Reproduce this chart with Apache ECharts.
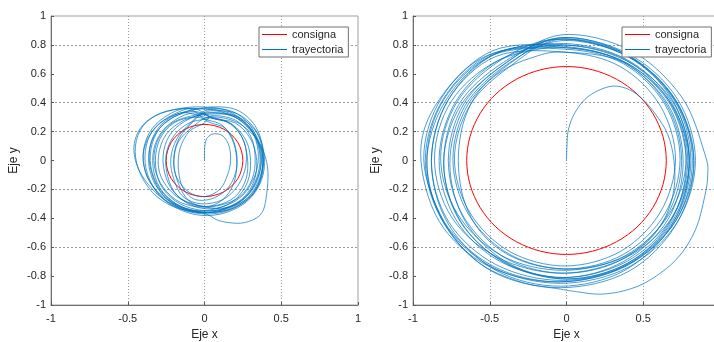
<!DOCTYPE html>
<html>
<head>
<meta charset="utf-8">
<script src="https://cdn.jsdelivr.net/npm/echarts@6/dist/echarts.min.js"></script>
<style>
  html, body { margin: 0; padding: 0; background: #fff; }
  #chart { width: 714px; height: 342px; }
</style>
</head>
<body>
<div id="chart"></div>
<script>
// consigna: circulo de referencia (r = 0.25 izquierda, r = 0.65 derecha)
const consignaIzq = [
  [0.25,0],[0.241,0.065],[0.217,0.125],[0.177,0.177],[0.125,0.217],[0.065,0.241],[0,0.25],
  [-0.065,0.241],[-0.125,0.217],[-0.177,0.177],[-0.217,0.125],[-0.241,0.065],[-0.25,0],
  [-0.241,-0.065],[-0.217,-0.125],[-0.177,-0.177],[-0.125,-0.217],[-0.065,-0.241],[0,-0.25],
  [0.065,-0.241],[0.125,-0.217],[0.177,-0.177],[0.217,-0.125],[0.241,-0.065],[0.25,0]
];
const consignaDer = [
  [0.65,0],[0.628,0.168],[0.563,0.325],[0.46,0.46],[0.325,0.563],[0.168,0.628],[0,0.65],
  [-0.168,0.628],[-0.325,0.563],[-0.46,0.46],[-0.563,0.325],[-0.628,0.168],[-0.65,0],
  [-0.628,-0.168],[-0.563,-0.325],[-0.46,-0.46],[-0.325,-0.563],[-0.168,-0.628],[0,-0.65],
  [0.168,-0.628],[0.325,-0.563],[0.46,-0.46],[0.563,-0.325],[0.628,-0.168],[0.65,0]
];

const trayIzq = [
  [0,0],[0,0.07],[0.005,0.12],[0.02,0.16],[0.06,0.185],[0.12,0.17],[0.16,0.1],[0.17,0],[0.15,-0.1],
  [0.1,-0.2],[0,-0.25],[-0.1,-0.22],[-0.18,-0.12],[-0.2,0],[-0.17,0.13],[-0.08,0.23],
  [0.03,0.3],[0.2,0.27],[0.33,0.16],[0.38,0.02],[0.36,-0.14],[0.27,-0.27],[0.12,-0.33],[-0.04,-0.31],
  [-0.18,-0.25],[-0.28,-0.12],[-0.3,0.03],[-0.25,0.18],[-0.13,0.28],
  [0.03,0.32],[0.2,0.3],[0.34,0.15],[0.41,-0.04],[0.4,-0.27],[0.36,-0.38],[0.26,-0.43],[0.16,-0.43],
  [0.08,-0.41],[0.01,-0.37],[-0.12,-0.34],[-0.26,-0.27],[-0.36,-0.14],[-0.4,0.02],[-0.36,0.17],
  [-0.26,0.28],[-0.12,0.34],
  [0.02,0.36],[0.18,0.34],[0.3,0.24],[0.36,0.08],[0.36,-0.08],[0.3,-0.22],[0.18,-0.32],[0.02,-0.36],
  [-0.14,-0.34],[-0.3,-0.24],[-0.42,-0.08],[-0.46,0.08],[-0.42,0.22],[-0.32,0.31],[-0.16,0.36],
  [0,0.37],[0.16,0.34],[0.3,0.22],[0.36,0.05],[0.34,-0.12],[0.26,-0.26],[0.12,-0.34],[-0.03,-0.36],
  [-0.18,-0.31],[-0.3,-0.2],[-0.36,-0.05],[-0.35,0.12],[-0.28,0.25],[-0.15,0.33],
  [0,0.3],[0.14,0.27],[0.24,0.17],[0.28,0.02],[0.27,-0.13],[0.2,-0.25],[0.08,-0.31],[-0.06,-0.31],
  [-0.18,-0.24],[-0.25,-0.12],[-0.27,0.03],[-0.23,0.17],[-0.13,0.27],
  [0.03,0.33],[0.2,0.3],[0.32,0.2],[0.38,0.04],[0.37,-0.12],[0.3,-0.25],[0.17,-0.34],[0.02,-0.37],
  [-0.14,-0.34],[-0.27,-0.24],[-0.34,-0.1],[-0.36,0.06],[-0.31,0.2],[-0.2,0.3],[-0.07,0.34],
  [0.05,0.3],[0.18,0.25],[0.26,0.12],[0.27,-0.03],[0.22,-0.17],[0.12,-0.27],[-0.02,-0.3],[-0.14,-0.25],
  [-0.2,-0.13],[-0.22,0.01],[-0.18,0.15],[-0.09,0.26],
  [0.02,0.35],[0.18,0.32],[0.3,0.22],[0.35,0.06],[0.33,-0.1],[0.25,-0.24],[0.12,-0.32],[-0.04,-0.35],
  [-0.2,-0.32],[-0.34,-0.22],[-0.43,-0.06],[-0.45,0.1],[-0.4,0.24],[-0.28,0.33],[-0.12,0.36],
  [0.05,0.35],[0.22,0.32],[0.34,0.2],[0.39,0.03],[0.37,-0.14],[0.28,-0.28],[0.14,-0.36],[-0.02,-0.38],
  [-0.18,-0.33],[-0.31,-0.22],[-0.38,-0.06],[-0.38,0.1],[-0.32,0.23],[-0.2,0.32],[-0.07,0.36],
  [0.06,0.29],[0.2,0.26],[0.3,0.15],[0.34,0],[0.32,-0.15],[0.24,-0.27],[0.1,-0.34],[-0.05,-0.34],
  [-0.19,-0.28],[-0.29,-0.16],[-0.32,0],[-0.29,0.15],[-0.2,0.26],[-0.07,0.3],
  [0.02,0.28],[0.12,0.24],[0.19,0.12],[0.21,-0.02],[0.19,-0.16],[0.12,-0.27],[0.01,-0.32],[-0.1,-0.28],
  [-0.17,-0.16],[-0.2,-0.02],[-0.18,0.12],[-0.11,0.23],
  [0.02,0.34],[0.18,0.31],[0.31,0.2],[0.37,0.05],[0.35,-0.11],[0.27,-0.25],[0.14,-0.33],[-0.02,-0.35],
  [-0.17,-0.31],[-0.29,-0.2],[-0.35,-0.04],[-0.34,0.12],[-0.27,0.25],[-0.14,0.33],
  [0.04,0.37],[0.21,0.35],[0.33,0.24],[0.38,0.08],[0.37,-0.1],[0.31,-0.24],[0.19,-0.33],[0.03,-0.36],
  [-0.13,-0.33],[-0.27,-0.25],[-0.37,-0.12],[-0.4,0.04],[-0.36,0.19],[-0.26,0.3],[-0.11,0.36],
  [0.02,0.27],[0.14,0.22],[0.2,0.1],[0.21,-0.05],[0.16,-0.18],[0.06,-0.26],[-0.06,-0.27],[-0.14,-0.19],
  [-0.17,-0.06],[-0.16,0.08],[-0.1,0.2],[0,0.26],
  [0.05,0.31],[0.2,0.28],[0.3,0.17],[0.33,0.02],[0.31,-0.13],[0.23,-0.25],[0.1,-0.31],[-0.05,-0.32],
  [-0.19,-0.27],[-0.29,-0.15],[-0.33,0],[-0.3,0.15],[-0.21,0.26],[-0.08,0.31],
  [0.04,0.33],[0.2,0.31],[0.33,0.21],[0.38,0.05],[0.36,-0.12],[0.28,-0.26],[0.15,-0.34],[0,-0.36],
  [-0.15,-0.32],[-0.27,-0.22],[-0.33,-0.08],[-0.33,0.08],[-0.27,0.21],[-0.16,0.3],[-0.05,0.33],
  [0.06,0.29],[0.18,0.25],[0.27,0.14],[0.3,0],[0.28,-0.15],[0.2,-0.27],[0.08,-0.33],[-0.06,-0.32],
  [-0.18,-0.24],[-0.24,-0.11],[-0.25,0.04],[-0.2,0.17],[-0.1,0.26],[0.03,0.29]
];

const trayDer = [
  [0,0],[0.003,0.1],[0.01,0.2],[0.04,0.3],[0.1,0.4],[0.18,0.47],[0.3,0.515],[0.41,0.49],[0.5,0.42],
  [0.58,0.32],[0.66,0.18],[0.7,0],[0.7,-0.2],[0.64,-0.4],[0.52,-0.57],[0.35,-0.68],[0.15,-0.74],
  [-0.05,-0.75],[-0.25,-0.71],[-0.43,-0.62],[-0.57,-0.48],[-0.66,-0.3],[-0.7,-0.1],[-0.7,0.1],
  [-0.66,0.3],[-0.57,0.48],[-0.42,0.62],[-0.23,0.71],[-0.02,0.75],
  [0.37,0.68],[0.65,0.39],[0.75,0],[0.65,-0.39],[0.37,-0.68],[-0.01,-0.78],[-0.39,-0.68],[-0.67,-0.39],
  [-0.77,0],[-0.67,0.39],[-0.39,0.68],
  [-0.04,0.85],[0.4,0.74],[0.72,0.43],[0.84,0],[0.72,-0.43],[0.4,-0.74],[-0.04,-0.85],[-0.48,-0.74],
  [-0.8,-0.43],[-0.92,0],[-0.8,0.43],[-0.48,0.74],
  [0,0.78],[0.4,0.67],[0.69,0.38],[0.8,-0.02],[0.69,-0.42],[0.4,-0.71],[0,-0.82],[-0.4,-0.71],
  [-0.69,-0.42],[-0.8,-0.02],[-0.69,0.38],[-0.4,0.67],
  [-0.03,0.87],[0.42,0.76],[0.75,0.44],[0.9,0.05],[0.92,-0.1],[0.9,-0.25],[0.84,-0.48],[0.72,-0.68],
  [0.54,-0.83],[0.38,-0.9],[0.22,-0.925],[0.08,-0.91],[-0.04,-0.89],[-0.3,-0.84],[-0.58,-0.7],
  [-0.8,-0.42],[-0.93,0.01],[-0.81,0.44],[-0.48,0.76],
  [-0.02,0.79],[0.37,0.68],[0.66,0.39],[0.76,-0.01],[0.66,-0.41],[0.37,-0.7],[-0.02,-0.81],[-0.41,-0.7],
  [-0.7,-0.41],[-0.8,-0.01],[-0.7,0.39],[-0.41,0.68],
  [-0.05,0.84],[0.38,0.73],[0.7,0.42],[0.81,0],[0.7,-0.42],[0.38,-0.73],[-0.05,-0.84],[-0.48,-0.73],
  [-0.8,-0.42],[-0.91,0],[-0.8,0.42],[-0.48,0.73],
  [0,0.77],[0.37,0.67],[0.64,0.39],[0.74,0.01],[0.64,-0.37],[0.37,-0.65],[0,-0.75],[-0.37,-0.65],
  [-0.64,-0.37],[-0.74,0.01],[-0.64,0.39],[-0.37,0.67],
  [-0.04,0.85],[0.38,0.74],[0.69,0.42],[0.8,-0.01],[0.69,-0.44],[0.38,-0.76],[-0.04,-0.87],[-0.46,-0.76],
  [-0.77,-0.44],[-0.88,-0.01],[-0.77,0.42],[-0.46,0.74],
  [-0.02,0.8],[0.38,0.7],[0.67,0.41],[0.78,0.02],[0.67,-0.37],[0.38,-0.66],[-0.02,-0.76],[-0.42,-0.66],
  [-0.71,-0.37],[-0.82,0.02],[-0.71,0.41],[-0.42,0.7],
  [-0.06,0.84],[0.39,0.73],[0.71,0.42],[0.83,0],[0.71,-0.42],[0.39,-0.73],[-0.06,-0.84],[-0.51,-0.73],
  [-0.83,-0.42],[-0.95,0.05],[-0.83,0.42],[-0.51,0.73],
  [0.01,0.78],[0.4,0.67],[0.68,0.38],[0.78,-0.02],[0.68,-0.42],[0.4,-0.71],[0.01,-0.82],[-0.38,-0.71],
  [-0.66,-0.42],[-0.76,-0.02],[-0.66,0.38],[-0.38,0.67],
  [-0.03,0.83],[0.4,0.72],[0.71,0.42],[0.82,0],[0.71,-0.42],[0.4,-0.72],[-0.03,-0.83],[-0.46,-0.72],
  [-0.77,-0.42],[-0.88,0],[-0.77,0.42],[-0.46,0.72],
  [-0.01,0.75],[0.35,0.65],[0.61,0.38],[0.71,0.01],[0.61,-0.36],[0.35,-0.63],[-0.01,-0.73],[-0.37,-0.63],
  [-0.63,-0.36],[-0.73,0.01],[-0.63,0.38],[-0.37,0.65],
  [-0.04,0.84],[0.4,0.73],[0.71,0.41],[0.83,-0.02],[0.71,-0.45],[0.4,-0.77],[-0.04,-0.88],[-0.48,-0.77],
  [-0.79,-0.45],[-0.91,-0.02],[-0.79,0.41],[-0.48,0.73],
  [-0.02,0.81],[0.39,0.7],[0.68,0.41],[0.79,0],[0.68,-0.41],[0.39,-0.7],[-0.02,-0.81],[-0.43,-0.7],
  [-0.72,-0.41],[-0.83,0],[-0.72,0.41],[-0.43,0.7],
  [-0.03,0.8],[0.39,0.69],[0.69,0.41],[0.8,0.01],[0.69,-0.39],[0.39,-0.67],[-0.03,-0.78],[-0.45,-0.67],
  [-0.75,-0.39],[-0.86,0.01],[-0.75,0.41],[-0.45,0.69],[-0.03,0.8]
];

const nombres = ["consigna", "trayectoria"];
const ejeX = "Eje x";
const ejeY = "Eje y";
// lineas de rejilla horizontales que se ven en la figura (de -1 a 1)
const rejillaY = ["none","none","g","none","g","none","g","g","none","g","none"];

const chart = echarts.init(document.getElementById("chart"));
const fuente = "Liberation Sans, Arial, sans-serif";
const gris = "#999999";

// tramos [p0, p1, p2, p3] para dibujar una curva suave entre p1 y p2
function tramos(pts, cerrada) {
  const n = pts.length;
  const out = [];
  for (let i = 0; i < n - 1; i++) {
    let p0 = i > 0 ? pts[i - 1] : (cerrada ? pts[n - 2] : pts[i]);
    let p3 = i + 2 < n ? pts[i + 2] : (cerrada ? pts[1] : pts[i + 1]);
    out.push([p0[0], p0[1], pts[i][0], pts[i][1], pts[i + 1][0], pts[i + 1][1], p3[0], p3[1]]);
  }
  return out;
}

function ejeXopt(idx) {
  return {
    gridIndex: idx,
    type: "value",
    min: -1,
    max: 1,
    interval: 0.5,
    name: ejeX,
    nameLocation: "middle",
    nameGap: 22,
    nameTextStyle: { color: "#262626", fontSize: 12, fontFamily: fuente },
    axisLine: { show: true, onZero: false, lineStyle: { color: "#707070" } },
    axisTick: { show: true, inside: true, length: 3, lineStyle: { color: "#555" } },
    axisLabel: { color: "#262626", fontSize: 11, fontFamily: fuente, margin: 8 },
    splitLine: {
      show: true,
      lineStyle: { color: ["transparent", gris, gris, gris, "transparent"], type: [1, 2] },
    },
  };
}

function ejeYopt(idx) {
  return {
    gridIndex: idx,
    type: "value",
    min: -1,
    max: 1,
    interval: 0.2,
    name: ejeY,
    nameLocation: "middle",
    nameGap: 31,
    nameTextStyle: { color: "#262626", fontSize: 12, fontFamily: fuente },
    axisLine: { show: true, onZero: false, lineStyle: { color: "#707070" } },
    axisTick: { show: true, inside: true, length: 3, lineStyle: { color: "#555" } },
    axisLabel: { color: "#262626", fontSize: 11, fontFamily: fuente, margin: 5 },
    splitLine: {
      show: true,
      lineStyle: {
        color: rejillaY.map((c) => (c === "g" ? gris : "transparent")),
        type: [2, 2],
      },
    },
  };
}

function leyenda(left) {
  return {
    left: left,
    top: 27,
    orient: "vertical",
    data: nombres.map((n) => ({ name: n, icon: "rect" })),
    itemWidth: 25,
    itemHeight: 1,
    itemGap: 4,
    padding: [2, 5, 2, 3],
    borderColor: "#707070",
    borderWidth: 1,
    borderRadius: 0,
    backgroundColor: "#ffffff",
    selectedMode: false,
    textStyle: { color: "#262626", fontSize: 11, fontFamily: fuente },
  };
}

function serie(nombre, pts, idx, color, ancho, cerrada) {
  return {
    name: nombre,
    type: "custom",
    xAxisIndex: idx,
    yAxisIndex: idx,
    data: tramos(pts, cerrada),
    encode: { x: [0, 2, 4, 6], y: [1, 3, 5, 7] },
    silent: true,
    animation: false,
    itemStyle: { color: color },
    renderItem: function (params, api) {
      const c = [0, 1, 2, 3].map((k) => api.coord([api.value(2 * k), api.value(2 * k + 1)]));
      const t = 1 / 6;
      return {
        type: "bezierCurve",
        shape: {
          x1: c[1][0], y1: c[1][1],
          x2: c[2][0], y2: c[2][1],
          cpx1: c[1][0] + (c[2][0] - c[0][0]) * t,
          cpy1: c[1][1] + (c[2][1] - c[0][1]) * t,
          cpx2: c[2][0] - (c[3][0] - c[1][0]) * t,
          cpy2: c[2][1] - (c[3][1] - c[1][1]) * t,
        },
        style: { stroke: color, lineWidth: ancho, fill: "none" },
      };
    },
  };
}

const option = {
  animation: false,
  backgroundColor: "#ffffff",
  grid: [
    { left: 51, top: 16, width: 307, height: 289, outerBoundsMode: "none", containLabel: false,
      show: true, borderColor: "#a0a0a0", borderWidth: 1 },
    { left: 413, top: 16, width: 307, height: 289, outerBoundsMode: "none", containLabel: false,
      show: true, borderColor: "#a0a0a0", borderWidth: 1 },
  ],
  legend: [leyenda(259), leyenda(622)],
  xAxis: [ejeXopt(0), ejeXopt(1)],
  yAxis: [ejeYopt(0), ejeYopt(1)],
  series: [
    serie("consigna", consignaIzq, 0, "#ff0000", 1, true),
    serie("trayectoria", trayIzq, 0, "#0072bd", 0.7, false),
    serie("consigna", consignaDer, 1, "#ff0000", 1, true),
    serie("trayectoria", trayDer, 1, "#0072bd", 0.7, false),
  ],
};

chart.setOption(option);
</script>
</body>
</html>
